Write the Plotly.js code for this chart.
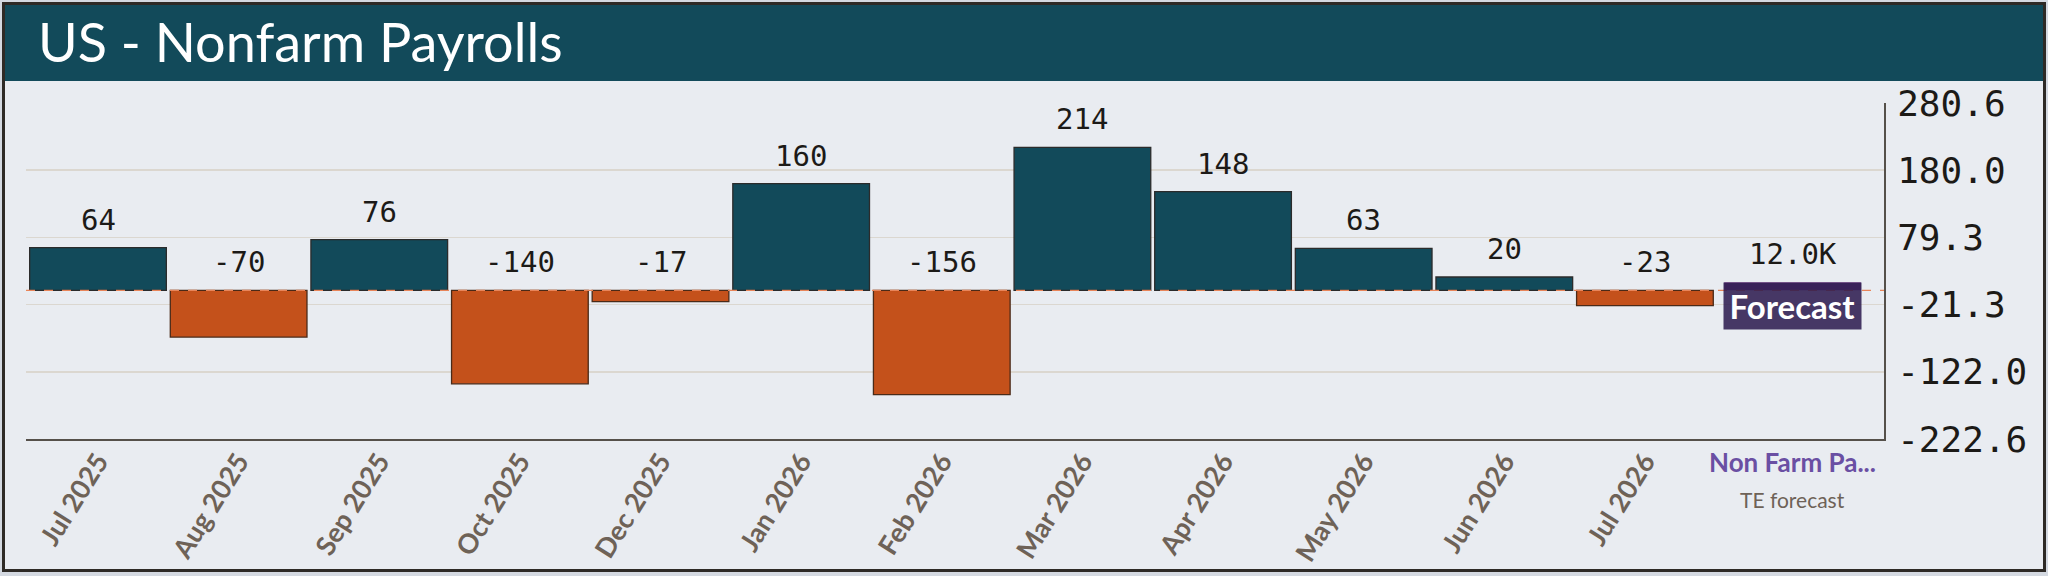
<!DOCTYPE html>
<html>
<head>
<meta charset="utf-8">
<script src="https://cdn.plot.ly/plotly-3.0.1.min.js"></script>
<style>
  html, body { margin: 0; padding: 0; background: #d4d9e1; }
  #frame { position: absolute; left: 2px; top: 2px; width: 2038px; height: 564px; border: 3px solid #2e2a26; background: #e9ecf1; }
  #chart { width: 2038px; height: 564px; }
</style>
</head>
<body>
<div id="frame"><div id="chart"></div></div>
<script>
// ---- data ----
const categories = ["Jul 2025", "Aug 2025", "Sep 2025", "Oct 2025", "Dec 2025", "Jan 2026",
                    "Feb 2026", "Mar 2026", "Apr 2026", "May 2026", "Jun 2026", "Jul 2026"];
const values = [64, -70, 76, -140, -17, 160, -156, 214, 148, 63, 20, -23];
const forecastCategory = "Forecast";
const forecastValue = 12;
const forecastValueLabel = "12.0K";
const forecastSeriesLabel = "Non Farm Pa...";
const forecastSourceLabel = "TE forecast";
const titleText = "US - Nonfarm Payrolls";
const yTickVals = [-222.6, -122.0, -21.3, 79.3, 180.0, 280.6];
const yTickText = ["-222.6", "-122.0", "-21.3", "79.3", "180.0", "280.6"];
const yRange = [-222.6, 280.6];

// ---- styles ----
const POS = "#124a5a", NEG = "#c4511b";
const POS_LINE = "#2b2b2b", NEG_LINE = "#4a2a18";
const W = 2038, H = 564, ML = 21, MR = 159, MT = 98, MB = 130;
const PH = H - MT - MB;
const BAR_W = 0.972;
const FC_SHIFT = 7; // px shift of the forecast slot

const allCats = categories.concat([forecastCategory]);

const barTrace = {
  type: "bar",
  x: categories,
  y: values,
  width: BAR_W,
  marker: {
    color: values.map(v => v >= 0 ? POS : NEG),
    line: { color: values.map(v => v >= 0 ? POS_LINE : NEG_LINE), width: 1.3 }
  },
  hoverinfo: "skip",
  showlegend: false
};
const forecastTrace = {
  type: "bar",
  x: [forecastCategory],
  y: [forecastValue],
  width: BAR_W,
  offset: -BAR_W / 2 + FC_SHIFT / 140.65,
  marker: { color: "rgb(150,90,160)", line: { width: 0 } },
  hoverinfo: "skip",
  showlegend: false
};

const monoFont = { family: "DejaVu Sans Mono, monospace", size: 29, color: "#1c1a17" };

const annotations = values.map((v, i) => ({
  x: categories[i], y: Math.max(v, 0), xref: "x", yref: "y",
  text: String(v), showarrow: false, yanchor: "middle", yshift: 28,
  font: monoFont
}));
annotations.push({
  x: forecastCategory, y: forecastValue, xref: "x", yref: "y",
  text: forecastValueLabel, showarrow: false, yanchor: "middle", yshift: 28, xshift: FC_SHIFT,
  font: monoFont
});
annotations.push({
  x: forecastCategory, y: forecastValue, xref: "x", yref: "y",
  text: "<b>Forecast</b>", showarrow: false, yanchor: "top", xanchor: "center", xshift: FC_SHIFT,
  width: 133, height: 42, borderpad: 2,
  bgcolor: "rgba(41,24,76,0.85)",
  font: { family: "Lato, sans-serif", size: 33, color: "#ffffff" }
});
annotations.push({
  x: forecastCategory, xref: "x", y: 1 - (456.7 - MT) / PH, yref: "paper", xshift: FC_SHIFT,
  text: "<b>" + forecastSeriesLabel + "</b>", showarrow: false, yanchor: "middle",
  font: { family: "Lato, sans-serif", size: 26, color: "#6a4fa3" }
});
annotations.push({
  x: forecastCategory, xref: "x", y: 1 - (494 - MT) / PH, yref: "paper", xshift: FC_SHIFT,
  text: forecastSourceLabel, showarrow: false, yanchor: "middle",
  font: { family: "Lato, sans-serif", size: 21, color: "#6e6257" }
});

const layout = {
  width: W, height: H,
  margin: { l: ML, r: MR, t: MT, b: MB, autoexpand: false },
  paper_bgcolor: "#e9ecf1",
  plot_bgcolor: "#e9ecf1",
  title: {
    text: titleText,
    xref: "container", x: 33 / W, xanchor: "left",
    yref: "container", y: 1 - 38 / H, yanchor: "middle",
    font: { family: "Lato, sans-serif", size: 54, color: "#ffffff" }
  },
  xaxis: {
    type: "category",
    categoryorder: "array", categoryarray: allCats,
    range: [-0.512, 12.70],
    tickvals: categories, ticktext: categories,
    tickangle: -58,
    tickfont: { family: "Lato, sans-serif", size: 27, color: "#6e6257", weight: "bold" },
    showgrid: false, zeroline: false,
    showline: true, linecolor: "#55504a", linewidth: 2,
    ticks: "", ticklabelstandoff: -6, fixedrange: true
  },
  yaxis: {
    side: "right",
    range: yRange,
    tickvals: yTickVals, ticktext: yTickText,
    tickfont: { family: "DejaVu Sans Mono, monospace", size: 36, color: "#1c1a17" },
    showgrid: true, gridcolor: "#dbd7d0", gridwidth: 1.5,
    zeroline: false,
    showline: true, linecolor: "#55504a", linewidth: 2,
    ticks: "", ticklabelstandoff: 4, fixedrange: true
  },
  shapes: [
    { type: "rect", xref: "paper", yref: "paper",
      x0: -0.02, x1: 1.1, y0: 1 + (MT - 76) / PH, y1: 1 + (MT + 5) / PH,
      fillcolor: "#124a5a", line: { width: 0 }, layer: "below" },
    { type: "line", xref: "paper", yref: "y", x0: 0, x1: 1, y0: 0, y1: 0,
      line: { color: "#e8855a", width: 1.2, dash: "dash" }, layer: "above" }
  ],
  annotations: annotations,
  showlegend: false
};

Plotly.newPlot("chart", [barTrace, forecastTrace], layout, { displayModeBar: false, staticPlot: true });
</script>
</body>
</html>
